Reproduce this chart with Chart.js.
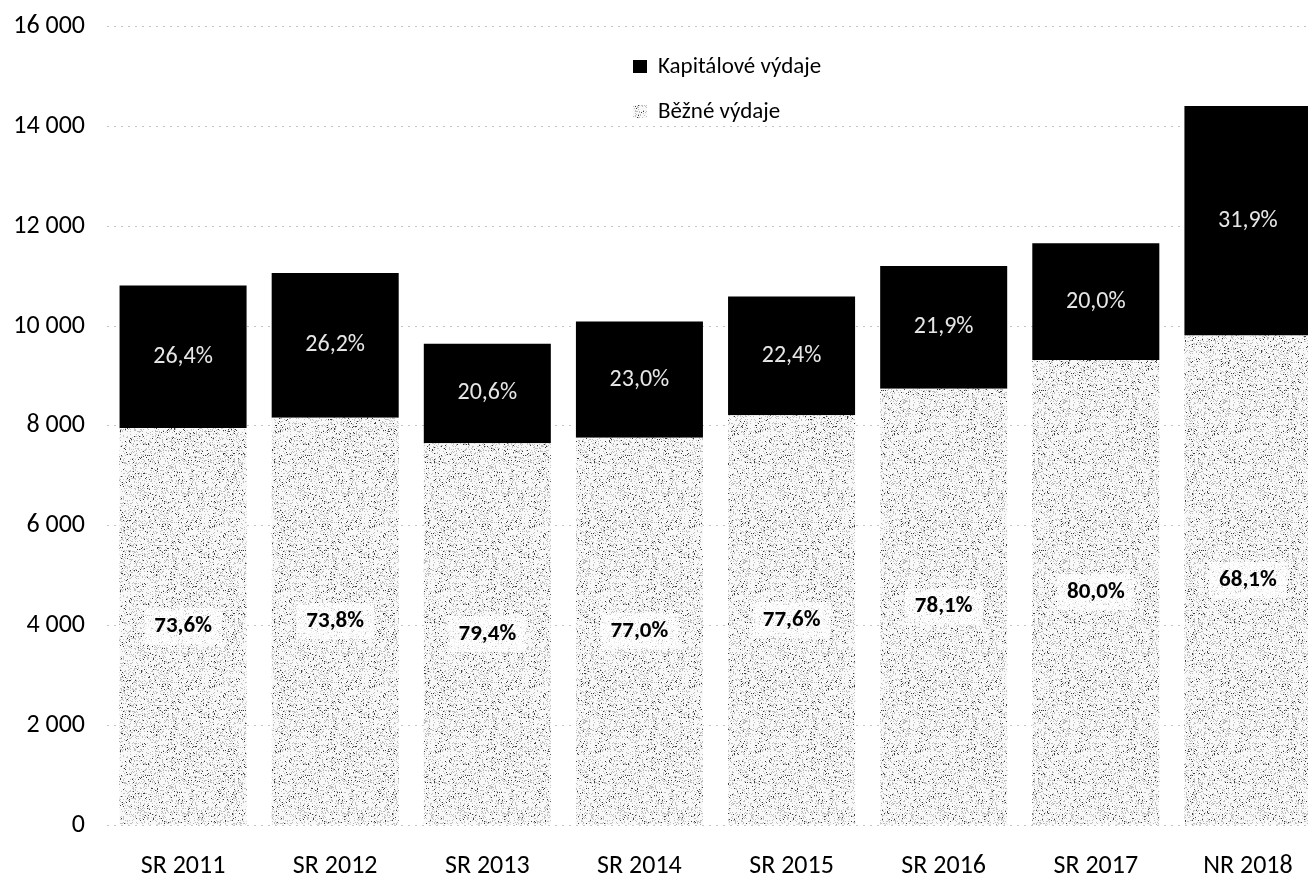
<!DOCTYPE html>
<html>
<head>
<meta charset="utf-8">
<script src="https://cdn.jsdelivr.net/npm/chart.js@4/dist/chart.umd.min.js"></script>
<style>
  html, body { margin: 0; padding: 0; background: #fff; overflow: hidden; }
  #wrap { width: 1324px; height: 879px; overflow: hidden; }
  #chart { display: block; margin-top: -11px; }
</style>
</head>
<body>
<div id="wrap"><canvas id="chart" width="1324" height="890"></canvas></div>
<script>
// data (mil. Kč)
const categories = ['SR 2011', 'SR 2012', 'SR 2013', 'SR 2014', 'SR 2015', 'SR 2016', 'SR 2017', 'NR 2018'];
const currentSpending = [7955, 8160, 7650, 7760, 8210, 8740, 9320, 9810];
const capitalSpending = [2855, 2900, 1995, 2330, 2380, 2460, 2340, 4600];
const currentShare = [73.6, 73.8, 79.4, 77.0, 77.6, 78.1, 80.0, 68.1];
const capitalShare = [26.4, 26.2, 20.6, 23.0, 22.4, 21.9, 20.0, 31.9];
const yTickLabels = ['0', '2 000', '4 000', '6 000', '8 000', '10 000', '12 000', '14 000', '16 000'];

const FONT = "Carlito, 'Open Sans', sans-serif";

// speckled grey fill, like the scanned hatch
function makeSpeckle() {
  const c = document.createElement('canvas');
  c.width = 160; c.height = 160;
  const g = c.getContext('2d');
  const img = g.createImageData(160, 160);
  let s = 12345;
  for (let i = 0; i < 160 * 160; i++) {
    s = (s * 1103515245 + 12345) & 0x7fffffff;
    const r = s / 0x7fffffff;
    let v = 248;
    if (r < 0.035) v = 60;
    else if (r < 0.22) v = 190;
    img.data[i * 4] = v; img.data[i * 4 + 1] = v; img.data[i * 4 + 2] = v; img.data[i * 4 + 3] = 255;
  }
  g.putImageData(img, 0, 0);
  return g.createPattern(c, 'repeat');
}

const fmt = v => v.toFixed(1).replace('.', ',') + '%';

const barLabels = {
  id: 'barLabels',
  afterDatasetsDraw(chart) {
    const ctx = chart.ctx;
    ctx.save();
    ctx.textAlign = 'center';
    ctx.textBaseline = 'middle';
    chart.data.datasets.forEach((ds, di) => {
      const meta = chart.getDatasetMeta(di);
      meta.data.forEach((bar, i) => {
        const cy = (bar.y + bar.base) / 2;
        const text = fmt(ds.shares[i]);
        if (di === 0) {
          ctx.font = "bold 23px " + FONT;
          const w = ctx.measureText(text).width;
          ctx.fillStyle = 'rgba(255,255,255,0.7)';
          ctx.fillRect(bar.x - w / 2 - 10, cy - 18, w + 20, 36);
          ctx.fillStyle = '#000';
        } else {
          ctx.font = "24px " + FONT;
          ctx.fillStyle = '#e6e6e6';
        }
        ctx.fillText(text, bar.x, cy);
      });
    });
    ctx.restore();
  }
};

const sideLegend = {
  id: 'sideLegend',
  afterDraw(chart) {
    const ctx = chart.ctx;
    const items = chart.data.datasets.slice().reverse();
    ctx.save();
    ctx.font = "23px " + FONT;
    ctx.textBaseline = 'middle';
    ctx.textAlign = 'left';
    items.forEach((ds, i) => {
      const y = 78 + i * 45; // canvas is shifted up by 11px
      ctx.fillStyle = ds.backgroundColor;
      ctx.fillRect(633, y - 7, 14, 13);
      ctx.fillStyle = '#000';
      ctx.fillText(ds.label, 658, y);
    });
    ctx.restore();
  }
};

const speckle = makeSpeckle();

new Chart(document.getElementById('chart').getContext('2d'), {
  type: 'bar',
  data: {
    labels: categories,
    datasets: [{
      label: 'Běžné výdaje',
      data: currentSpending,
      shares: currentShare,
      backgroundColor: speckle,
      borderWidth: 0
    }, {
      label: 'Kapitálové výdaje',
      data: capitalSpending,
      shares: capitalShare,
      backgroundColor: '#000',
      borderWidth: 0
    }]
  },
  options: {
    responsive: false,
    animation: false,
    layout: { padding: { top: 15, right: 0, left: 0, bottom: 0 } },
    datasets: { bar: { barPercentage: 0.835, categoryPercentage: 1 } },
    plugins: { legend: { display: false }, tooltip: { enabled: false } },
    scales: {
      x: {
        stacked: true,
        grid: { display: false },
        border: { display: false },
        ticks: { color: '#000', font: { family: FONT, size: 26 }, padding: 18 },
        afterFit(scale) { scale.height = 54; }
      },
      y: {
        stacked: true,
        min: 0,
        max: 16000,
        ticks: {
          stepSize: 2000,
          color: '#000',
          font: { family: FONT, size: 26 },
          padding: 22,
          callback: (v, i) => yTickLabels[i]
        },
        grid: { color: '#c4c4c4', drawTicks: false, lineWidth: 1 },
        border: { display: false, dash: [2, 5] },
        afterFit(scale) { scale.width = 107; }
      }
    }
  },
  plugins: [barLabels, sideLegend]
});
</script>
</body>
</html>
